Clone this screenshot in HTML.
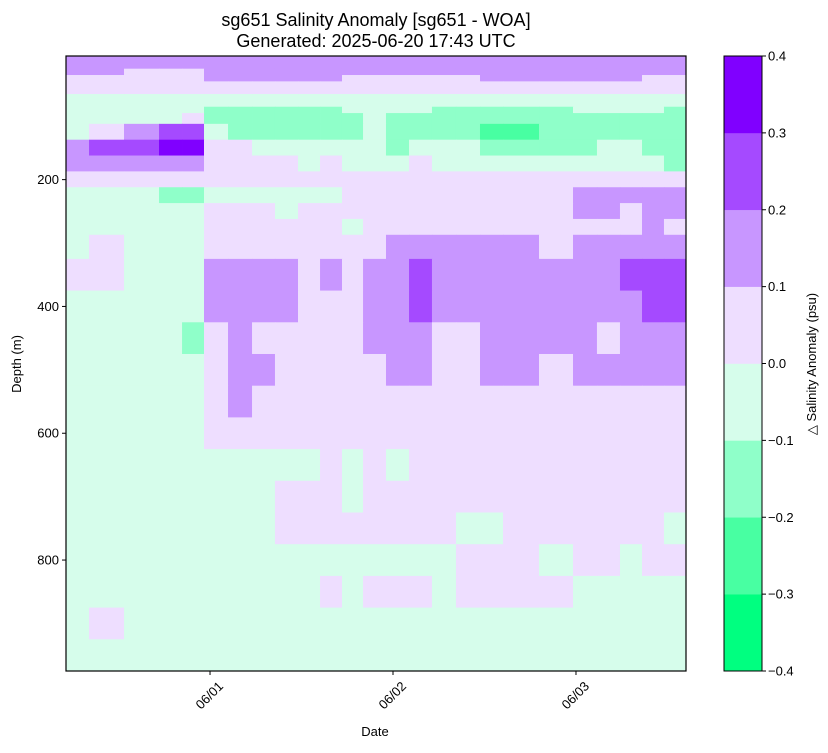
<!DOCTYPE html>
<html><head><meta charset="utf-8"><style>
body{margin:0;background:#fff;}
svg text{font-family:"Liberation Sans","DejaVu Sans",sans-serif;fill:#000;}
</style></head><body>
<svg id="chart" width="828" height="748" viewBox="0 0 828 748" xmlns="http://www.w3.org/2000/svg">
<rect width="828" height="748" fill="#fff"/>
<text x="376" y="26" font-size="18" text-anchor="middle">sg651 Salinity Anomaly [sg651 - WOA]</text>
<text x="376" y="47" font-size="18" text-anchor="middle">Generated: 2025-06-20 17:43 UTC</text>
<g id="cells"></g>
<g id="axes"></g>
<g id="cbar"></g>
<text transform="translate(21,364) rotate(-90)" font-size="13" text-anchor="middle">Depth (m)</text>
<text x="375" y="736" font-size="13" text-anchor="middle">Date</text>
<text transform="translate(816,364) rotate(-90)" font-size="13" text-anchor="middle">△ Salinity Anomaly (psu)</text>
</svg>
<script>
// column edges: hours since 05/31 00:00
const timeEdges=[5.11,8.13,12.72,17.31,20.33,23.21,26.36,29.51,32.52,35.54,38.43,41.31,44.07,47.08,50.10,53.11,56.26,59.41,62.43,67.15,71.61,74.75,77.77,80.66,83.54,86.43];
// row edges: depth (m)
const depthEdges=[5,25,35,45,65,75,85,95,112,137,162,187,212,237,262,287,325,375,425,475,525,575,625,675,725,775,825,875,925,975];
// level index per cell (value = -0.35 + 0.1*k)
const levelRows=[
"5555555555555555555555555",
"5544455555555555555555555",
"4444455555544444455555544",
"4444444444444444444444444",
"3333333333333333333333333",
"3333333333333333333333333",
"3333322222233332222233332",
"3333422222223222222222222",
"3456632222223222211222222",
"5667744333333233322223322",
"5555544443433343333333332",
"4444444444444444444444444",
"3332233333344444444455555",
"3333344434444444444455455",
"3333344444434444444444454",
"3433344444444555555455555",
"4433355554545565555555666",
"3333355554445565555555566",
"3333245444445554455554555",
"3333345544444554455455555",
"3333345444444444444444444",
"3333344444444444444444444",
"3333333333434344444444444",
"3333333344434444444444444",
"3333333344444444334444443",
"3333333333333333444344344",
"3333333333434443444433333",
"3433333333333333333333333",
"3333333333333333333333333"];
const cellValues=levelRows.map(r=>r.split('').map(c=>-0.35+0.1*Number(c)));
const levelColors=["#00ff80","#48ffa2","#8fffc9","#d6fdeb","#eedeff","#c896ff","#a54aff","#8000ff"];
const colorLevels=[-0.4,-0.3,-0.2,-0.1,0,0.1,0.2,0.3,0.4];
const depthTicks=[200,400,600,800];
const dateTicks=[24,48,72];
const dateLabels=["06/01","06/02","06/03"];

const X0=66,X1=686,Y0=56,Y1=671;
const tMin=timeEdges[0],tMax=timeEdges[timeEdges.length-1];
const dMin=depthEdges[0],dMax=depthEdges[depthEdges.length-1];
const xs=t=>X0+(t-tMin)/(tMax-tMin)*(X1-X0);
const ys=d=>Y0+(d-dMin)/(dMax-dMin)*(Y1-Y0);
const NS="http://www.w3.org/2000/svg";
function mk(tag,attrs,parent){const e=document.createElementNS(NS,tag);for(const k in attrs)e.setAttribute(k,attrs[k]);parent.appendChild(e);return e;}
function colorFor(v){let k=Math.floor((v+0.4)/0.1+1e-9);k=Math.max(0,Math.min(7,k));return levelColors[k];}

const cells=document.getElementById('cells');
cellValues.forEach((row,i)=>{row.forEach((v,j)=>{
  const x=xs(timeEdges[j]),x2=xs(timeEdges[j+1]),y=ys(depthEdges[i]),y2=ys(depthEdges[i+1]);
  const r=mk('rect',{x:x,y:y,width:x2-x+0.4,height:y2-y+0.4,fill:colorFor(v)},cells);
  
  
});});

const axes=document.getElementById('axes');
const frame=mk('rect',{x:X0,y:Y0,width:X1-X0,height:Y1-Y0,fill:'none',stroke:'#000','stroke-width':1.2},axes);


depthTicks.forEach(d=>{
  const y=ys(d);
  const t=mk('line',{x1:X0-4,x2:X0,y1:y,y2:y,stroke:'#000'},axes);
  
  
  const l=mk('text',{x:X0-7,y:y+4.5,'font-size':13,'text-anchor':'end'},axes);
  l.textContent=d;
  
  
});
dateTicks.forEach((h,i)=>{
  const x=xs(h);
  const t=mk('line',{x1:x,x2:x,y1:Y1,y2:Y1+4,stroke:'#000'},axes);
  
  
  const l=mk('text',{transform:`translate(${x+14},${Y1+16}) rotate(-45)`,'font-size':13,'text-anchor':'end'},axes);
  l.textContent=dateLabels[i];
  
  
});

const cb=document.getElementById('cbar');
const CX=724,CW=38;
const cy=v=>Y1-(v-colorLevels[0])/(colorLevels[colorLevels.length-1]-colorLevels[0])*(Y1-Y0);
for(let k=0;k<levelColors.length;k++){
  const r=mk('rect',{x:CX,y:cy(colorLevels[k+1]),width:CW,height:cy(colorLevels[k])-cy(colorLevels[k+1])+0.3,fill:levelColors[k]},cb);
  
  
}
const cf=mk('rect',{x:CX,y:Y0,width:CW,height:Y1-Y0,fill:'none',stroke:'#000','stroke-width':1},cb);


colorLevels.forEach(v=>{
  const y=cy(v);
  const t=mk('line',{x1:CX+CW,x2:CX+CW+4,y1:y,y2:y,stroke:'#000'},cb);
  
  
  const l=mk('text',{x:CX+CW+6,y:y+4.5,'font-size':13},cb);
  l.textContent=(v<0?'\u2212':'')+Math.abs(v).toFixed(1);
  
  
});
</script>
</body></html>
